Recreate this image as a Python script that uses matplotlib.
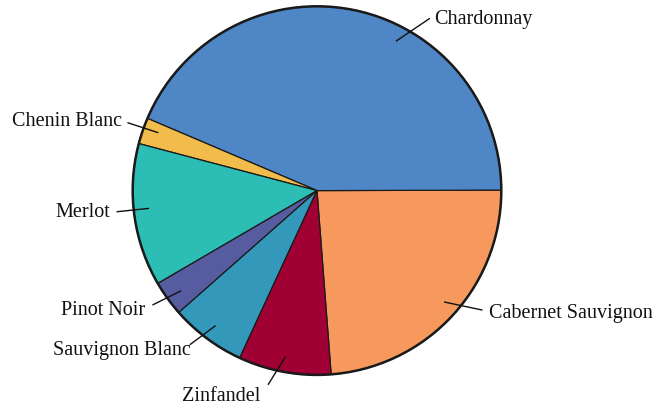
import matplotlib
matplotlib.use("Agg")
import matplotlib.pyplot as plt
import numpy as np

# ---- data ----
categories = ["Cabernet Sauvignon", "Chardonnay", "Chenin Blanc", "Merlot",
              "Pinot Noir", "Sauvignon Blanc", "Zinfandel"]
values = [23.8, 43.5, 2.3, 12.5, 3.1, 6.6, 8.1]
colors = ["#f7985c", "#4e86c6", "#f2bc4c", "#2cbdb5", "#575ca0", "#3398ba", "#a00034"]

# ---- layout (label nudges: inner angle offset, outer angle offset, outer radius factor) ----
label_layout = {
    "Cabernet Sauvignon": (1.6, 6.8, 1.104),
    "Chardonnay": (-16.5, -21.7, 1.114),
    "Chenin Blanc": (-1.1, -0.8, 1.089),
    "Merlot": (-1.7, -1.7, 1.09),
    "Pinot Noir": (0.5, -1.0, 1.084),
    "Sauvignon Blanc": (-0.3, -2.8, 1.081),
    "Zinfandel": (-0.6, -3.9, 1.083),
}
text_off = {
    "Cabernet Sauvignon": (7.6, -2.2, "left"),
    "Chardonnay": (5, 0.2, "left"),
    "Chenin Blanc": (-6.3, 1.9, "right"),
    "Merlot": (-7, 0.2, "right"),
    "Pinot Noir": (-7.7, -4.5, "right"),
    "Sauvignon Blanc": (0, -5.5, "right"),
    "Zinfandel": (-8, -11.5, "right"),
}

W, H = 657, 406
fig = plt.figure(figsize=(W / 100, H / 100), dpi=100)
ax = fig.add_axes([0, 0, 1, 1])

cx, cy, R = 317.0, H - 191.6, 184.3
wedges, _ = ax.pie(values, colors=colors, startangle=-85.6, counterclock=True,
                   center=(cx, cy), radius=R, frame=True,
                   wedgeprops=dict(edgecolor="#1a1a1a", linewidth=0.9))
ax.set_xlim(0, W)
ax.set_ylim(0, H)
ax.set_aspect("equal")
ax.axis("off")
ax.add_patch(plt.Circle((cx, cy), R, fill=False, edgecolor="#1a1a1a", linewidth=1.8, zorder=5))

for w, name in zip(wedges, categories):
    mid = (w.theta1 + w.theta2) / 2
    o1, o2, rf = label_layout[name]
    a1 = np.deg2rad(mid + o1)
    a2 = np.deg2rad(mid + o2)
    x1, y1 = cx + 0.92 * R * np.cos(a1), cy + 0.92 * R * np.sin(a1)
    x2, y2 = cx + rf * R * np.cos(a2), cy + rf * R * np.sin(a2)
    ax.plot([x1, x2], [y1, y2], color="#111111", linewidth=1.0, zorder=6)
    dx, dy, ha = text_off[name]
    ax.text(x2 + dx, y2 + dy, name, ha=ha, va="center", fontsize=14.5,
            family="Liberation Serif", color="#111111", zorder=7)

fig.savefig("out.png", dpi=100)
